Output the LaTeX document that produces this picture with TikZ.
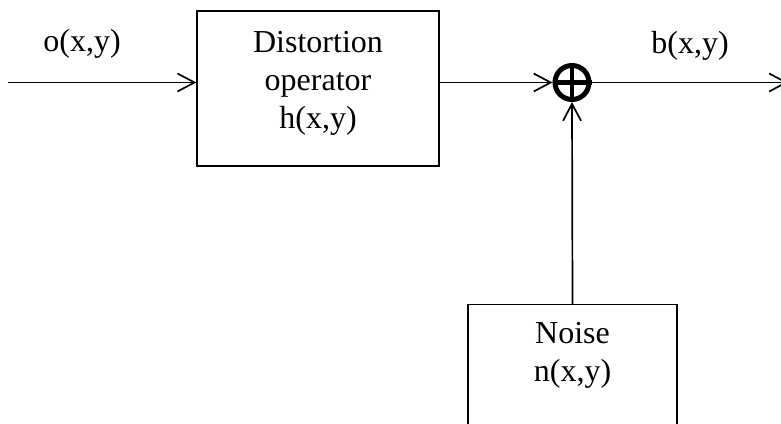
\documentclass[tikz,border=0pt]{standalone}
\usepackage{fontspec}
\setmainfont{Liberation Serif}
\usetikzlibrary{arrows.meta}
\begin{document}
\begin{tikzpicture}[x=1pt,y=-1pt,
  wire/.style={line width=1.7pt},
  sig/.style={wire,-{Straight Barb[length=17pt,width=18pt]}},
  blockbox/.style={draw,line width=1.4pt,inner sep=0pt},
  blocktext/.style={align=center,inner sep=0pt,font=\fontsize{32}{38}\selectfont},
  lbl/.style={anchor=base,inner sep=0pt,font=\fontsize{32}{38}\selectfont},
]
\useasboundingbox (0,0) rectangle (781,423);
\clip (0,0) rectangle (781,423);

% distortion block
\node[blockbox, minimum width=242pt, minimum height=155pt] (dist) at (318,88.5) {};
\node[blocktext] (disttext) at (318,83) {Distortion\\operator\\h(x,y)};

% noise block, running off the lower edge
\node[blockbox, minimum width=209pt, minimum height=160pt, anchor=north] (noise) at (572.5,304) {};
\node[blocktext] (noisetext) at (572.5,355.5) {Noise\\n(x,y)};

% summing junction
\node[circle, draw, line width=5pt, minimum size=34pt, inner sep=0pt] (sum) at (572,82.5) {};
\draw[line width=4.5pt] (sum.north) -- (sum.south) (sum.west) -- (sum.east);

% signal labels
\node[lbl] (inlbl) at (82,51) {o(x,y)};
\node[lbl] (outlbl) at (690,53) {b(x,y)};

% connectors
\coordinate (src) at (8,82.5);
\coordinate (dst) at (788,82.5);
\draw[sig] (src) -- (src -| dist.west);
\draw[sig] (dist.east |- sum) -- (sum.west);
\draw[sig] (noise.north) -- (sum.south);
\draw[sig] (sum.east) -- (dst);
\end{tikzpicture}
\end{document}
